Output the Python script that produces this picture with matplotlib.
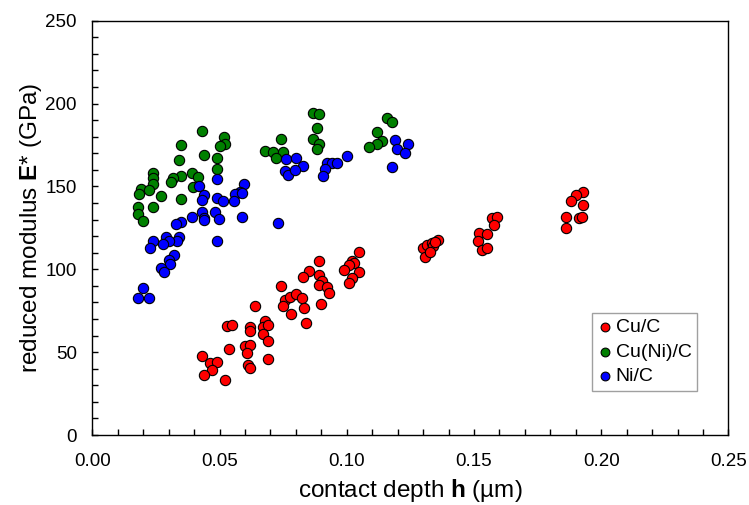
import matplotlib
matplotlib.use("Agg")
import matplotlib.pyplot as plt
from matplotlib.ticker import MultipleLocator

plt.rcParams['font.family'] = ['Liberation Sans', 'DejaVu Sans']
plt.rcParams['mathtext.fontset'] = 'custom'
plt.rcParams['mathtext.rm'] = 'Liberation Sans'
plt.rcParams['mathtext.bf'] = 'Liberation Sans:bold'

# Cu/C
cu_h = [0.0639, 0.0530, 0.0550, 0.0620, 0.0620, 0.0680, 0.0670, 0.0692, 0.0670, 0.0690,
        0.0538, 0.0600, 0.0620, 0.0609, 0.0689, 0.0430, 0.0462, 0.0491, 0.0470, 0.0439,
        0.0611, 0.0621, 0.0520, 0.0740, 0.0757, 0.0777, 0.0800, 0.0823, 0.0750, 0.0780,
        0.0832, 0.0840, 0.0889, 0.0850, 0.0830, 0.0891, 0.0901, 0.0890, 0.0921, 0.0931,
        0.0900, 0.1049, 0.1022, 0.1029, 0.1007, 0.0989, 0.1049, 0.1022, 0.1010,
        0.1301, 0.1307, 0.1314, 0.1334, 0.1340, 0.1360, 0.1347, 0.1327,
        0.1569, 0.1589, 0.1580, 0.1521, 0.1550, 0.1517, 0.1530, 0.1550,
        0.1929, 0.1899, 0.1880, 0.1928, 0.1860, 0.1860, 0.1911, 0.1925]
cu_E = [77.9, 66.0, 66.6, 65.0, 62.8, 69.0, 65.4, 66.4, 60.8, 56.9,
        51.9, 53.9, 54.3, 49.7, 45.7, 47.9, 43.3, 44.2, 39.2, 36.4,
        42.1, 40.6, 33.0, 89.9, 81.5, 83.5, 85.1, 82.5, 77.9, 73.0,
        76.5, 67.4, 105.0, 99.0, 95.4, 96.3, 93.1, 90.5, 89.5, 85.7,
        79.2, 110.4, 105.2, 103.8, 102.6, 99.6, 98.6, 94.9, 91.6,
        112.7, 107.2, 114.7, 115.7, 114.1, 117.7, 116.7, 110.6,
        130.8, 131.4, 126.9, 121.7, 121.1, 117.1, 111.6, 113.0,
        146.8, 145.0, 141.0, 138.8, 131.6, 125.1, 131.1, 131.7]

# Cu(Ni)/C
cuni_h = [0.0430, 0.0519, 0.0521, 0.0502, 0.0350, 0.0439, 0.0339, 0.0490, 0.0490, 0.0240,
          0.0240, 0.0240, 0.0350, 0.0318, 0.0308, 0.0391, 0.0414, 0.0397, 0.0190, 0.0182,
          0.0222, 0.0270, 0.0350, 0.0180, 0.0240, 0.0180, 0.0200,
          0.0740, 0.0679, 0.0710, 0.0749, 0.0720,
          0.0868, 0.0892, 0.0882, 0.0868, 0.0892, 0.0882,
          0.1158, 0.1179, 0.1120, 0.1140, 0.1119, 0.1088]
cuni_E = [183.6, 180.0, 175.4, 174.4, 175.2, 168.8, 166.1, 167.0, 160.7, 157.9,
          154.9, 151.3, 156.1, 154.9, 152.9, 158.3, 155.5, 149.8, 148.5, 145.3,
          147.9, 144.2, 142.6, 137.8, 137.4, 133.2, 129.3,
          178.8, 171.4, 171.0, 171.0, 167.4,
          194.5, 193.7, 185.5, 178.5, 175.4, 172.4,
          191.1, 188.6, 183.0, 177.6, 175.5, 174.0]

# Ni/C
ni_h = [0.0489, 0.0597, 0.0420, 0.0580, 0.0561, 0.0587, 0.0440, 0.0489, 0.0515, 0.0558,
        0.0430, 0.0430, 0.0482, 0.0391, 0.0440, 0.0439, 0.0499, 0.0589, 0.0350, 0.0328,
        0.0290, 0.0341, 0.0332, 0.0303, 0.0240, 0.0279, 0.0227, 0.0489, 0.0320, 0.0301,
        0.0304, 0.0270, 0.0282, 0.0200, 0.0181, 0.0222,
        0.0761, 0.0799, 0.0829, 0.0758, 0.0770, 0.0796,
        0.0921, 0.0941, 0.0960, 0.0914, 0.0908, 0.1000,
        0.1189, 0.1239, 0.1197, 0.1230, 0.1179, 0.0731]
ni_E = [154.7, 151.3, 150.3, 146.8, 145.3, 145.9, 144.7, 142.8, 141.2, 141.4,
        141.8, 134.8, 134.6, 131.7, 131.1, 129.8, 130.2, 131.7, 128.7, 127.2,
        119.7, 119.7, 117.3, 117.1, 117.3, 115.1, 113.0, 117.1, 108.4, 105.8,
        103.2, 100.6, 98.6, 88.5, 82.5, 82.5,
        166.6, 167.0, 162.5, 159.3, 156.9, 159.9,
        164.3, 164.3, 164.3, 160.3, 156.3, 168.6,
        177.9, 175.6, 172.3, 170.0, 161.7, 128.1]

fig = plt.figure(figsize=(7.49, 5.05), dpi=100)
ax = fig.add_axes([0.1232, 0.1386, 0.8494, 0.8204])

ax.scatter(cu_h, cu_E, s=55, c='#ff0000', edgecolors='black', linewidths=0.8, label='Cu/C', zorder=3)
ax.scatter(cuni_h, cuni_E, s=55, c='#008000', edgecolors='black', linewidths=0.8, label='Cu(Ni)/C', zorder=3)
ax.scatter(ni_h, ni_E, s=55, c='#0000ff', edgecolors='black', linewidths=0.8, label='Ni/C', zorder=3)

ax.set_xlim(0, 0.25)
ax.set_ylim(0, 250)
ax.xaxis.set_major_locator(MultipleLocator(0.05))
ax.xaxis.set_minor_locator(MultipleLocator(0.01))
ax.yaxis.set_major_locator(MultipleLocator(50))
ax.yaxis.set_minor_locator(MultipleLocator(10))
ax.xaxis.set_major_formatter(plt.FormatStrFormatter('%.2f'))
ax.tick_params(which='both', direction='in', length=4, width=1, top=False, right=False)
ax.tick_params(axis='x', which='major', labelsize=13.5, pad=13)
ax.tick_params(axis='y', which='major', labelsize=13.5, pad=11)
for sp in ax.spines.values():
    sp.set_linewidth(1.0)

ax.set_xlabel(r'contact depth $\mathbf{h}$ (µm)', fontsize=17.5, labelpad=5)
ax.set_ylabel(r'reduced modulus $\mathbf{E}$* (GPa)', fontsize=17.5, labelpad=1)

leg = ax.legend(loc='upper right', bbox_to_anchor=(0.951, 0.295), borderaxespad=0,
                fontsize=14, markerscale=0.85, handletextpad=0.2, handlelength=0.7,
                labelspacing=0.35, borderpad=0.3, fancybox=False, framealpha=1)
leg.get_frame().set_edgecolor('#a0a0a0')
leg.get_frame().set_linewidth(1.0)

fig.savefig('out.png', dpi=100)
